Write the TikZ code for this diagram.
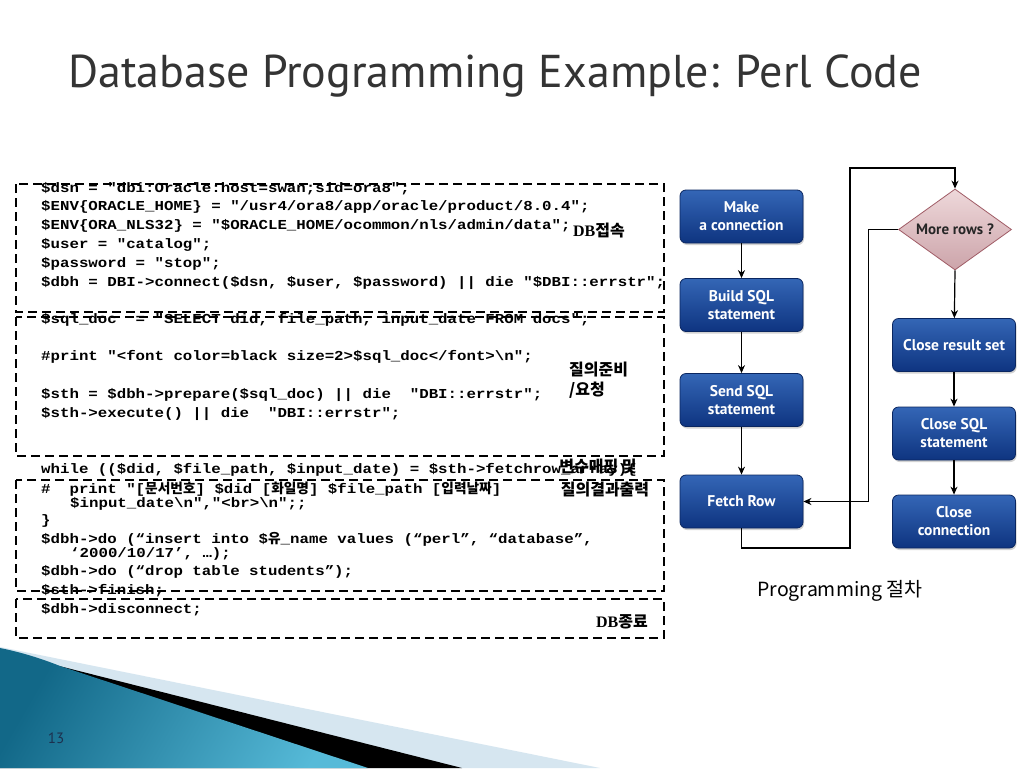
\documentclass[tikz,border=0pt]{standalone}
\usepackage{fontspec}
\setmainfont{PT Sans}
\newfontfamily\codefont[FakeStretch=1.15]{Liberation Mono}
\newfontfamily\korfont{Noto Sans CJK KR}
\newfontfamily\serifbold{Liberation Serif}
\usetikzlibrary{shapes.geometric,arrows.meta,shadows}

\definecolor{boxtop}{RGB}{52,102,182}
\definecolor{boxbot}{RGB}{14,52,128}
\definecolor{boxedge}{RGB}{10,38,96}
\definecolor{diatop}{RGB}{238,216,218}
\definecolor{diabot}{RGB}{204,164,170}
\definecolor{diaedge}{RGB}{160,92,102}
\definecolor{titlegray}{RGB}{52,52,52}
\definecolor{tealdark}{RGB}{18,104,136}
\definecolor{teallight}{RGB}{86,186,216}
\definecolor{skyband}{RGB}{214,230,240}
\definecolor{pagenum}{RGB}{28,48,78}

\begin{document}
\begin{tikzpicture}[x=1pt, y=-1pt,
    codebox/.style={draw, line width=1.8pt, dash pattern=on 9pt off 5pt},
    codeline/.style={anchor=mid west, inner sep=0pt, font=\codefont\bfseries\fontsize{13.7}{15}\selectfont},
    note/.style={inner sep=0pt, align=left, font=\korfont\bfseries\fontsize{16}{20}\selectfont},
    stepbox/.style={rectangle, rounded corners=6pt, draw=boxedge, line width=0.8pt,
        top color=boxtop, bottom color=boxbot, text=white, align=center,
        font=\bfseries\fontsize{15.5}{18}\selectfont, minimum width=123pt, minimum height=53pt,
        drop shadow={opacity=0.35, shadow xshift=1pt, shadow yshift=-2pt}},
    decision/.style={diamond, aspect=1.38, inner sep=0pt, draw=diaedge, line width=0.8pt,
        top color=diatop, bottom color=diabot, text=black!85,
        font=\bfseries\fontsize{15}{17}\selectfont, minimum width=113pt, minimum height=81pt},
    flow/.style={-{Stealth[length=8pt,width=7pt]}, line width=1.2pt}]
    \useasboundingbox (0,0) rectangle (1024,768);
    \fill[white] (0,0) rectangle (1024,768);

    % bottom decoration
    \fill[skyband] (0,647) -- (600,768) -- (0,768) -- cycle;
    \fill[black] (0,651) -- (462,768) -- (0,768) -- cycle;
    \shade[left color=tealdark, right color=teallight, shading angle=60] (0,648) .. controls (20,652) and (40,658) .. (60,666) -- (368,768) -- (0,768) -- cycle;

    % title and page number
    \node[text=titlegray, font=\fontsize{46}{50}\selectfont] (title) at (495,76) {Database Programming Example: Perl Code};
    \node[text=pagenum, font=\fontsize{15}{18}\selectfont] (page) at (56,738) {13};

    % code boxes
    \draw[codebox] (16,184) rectangle (664,312);
    \draw[codebox] (16,317) rectangle (664,456);
    \draw[codebox] (16,480) rectangle (664,591);
    \draw[codebox] (16,599) rectangle (664,638);

    \node[codeline] (dsn) at (41,190) {\$dsn = "dbi:Oracle:host=swan;sid=ora8";};
    \node[codeline] (envhome) at (41,208) {\$ENV\{ORACLE\_HOME\} = "/usr4/ora8/app/oracle/product/8.0.4";};
    \node[codeline] (envnls) at (41,227) {\$ENV\{ORA\_NLS32\} = "\$ORACLE\_HOME/ocommon/nls/admin/data";};
    \node[codeline] (user) at (41,246) {\$user = "catalog";};
    \node[codeline] (passwd) at (41,265) {\$password = "stop";};
    \node[codeline] (connect) at (41,284) {\$dbh = DBI->connect(\$dsn, \$user, \$password) || die "\$DBI::errstr";};

    \node[codeline] (sqldoc) at (41,321) {\$sql\_doc\ \ = "SELECT did, file\_path, input\_date FROM docs";};
    \node[codeline] (printdoc) at (41,358) {\#print "<font color=black size=2>\$sql\_doc</font>\textbackslash n";};
    \node[codeline] (prepare) at (41,396) {\$sth = \$dbh->prepare(\$sql\_doc) || die\ \ "DBI::errstr";};
    \node[codeline] (execute) at (41,415) {\$sth->execute() || die\ \ "DBI::errstr";};

    \node[codeline] (fetchloop) at (41,471) {while ((\$did, \$file\_path, \$input\_date) = \$sth->fetchrow\_array)\{};
    \node[codeline] (printrow) at (41,491) {\#\ \ print "[{\korfont 문서번호}] \$did [{\korfont 화일명}] \$file\_path [{\korfont 입력날짜}]};
    \node[codeline] (printrowb) at (70,505) {\$input\_date\textbackslash n","<br>\textbackslash n";;};
    \node[codeline] (closeloop) at (41,522) {\}};
    \node[codeline] (insert) at (41,541) {\$dbh->do (“insert into \${\korfont 유}\_name values (“perl”, “database”,};
    \node[codeline] (insertb) at (70,555) {‘2000/10/17’, …);};
    \node[codeline] (droptab) at (41,573) {\$dbh->do (“drop table students”);};
    \node[codeline] (finish) at (41,592) {\$sth->finish;};
    \node[codeline] (disconnect) at (41,611) {\$dbh->disconnect;};

    % notes on the code
    \node[note] (noteconn) at (599,231) {{\serifbold DB}접속};
    \node[note, anchor=west] (noteprep) at (569,380) {질의준비\\/요청};
    \node[note] (notemap) at (598,467) {변수매핑 및};
    \node[note] (noteres) at (605,490) {질의결과출력};
    \node[note] (noteend) at (622,622) {{\serifbold DB}종료};

    % flow chart
    \node[stepbox] (make) at (741.5,216.5) {Make\\a connection};
    \node[stepbox] (build) at (741.5,305) {Build SQL\\statement};
    \node[stepbox] (send) at (741.5,400) {Send SQL\\statement};
    \node[stepbox] (fetch) at (741.5,501.5) {Fetch Row};
    \node[decision] (morerows) at (955,229.5) {More rows ?};
    \node[stepbox] (closers) at (954,345) {Close result set};
    \node[stepbox] (closesql) at (954,433.5) {Close SQL\\statement};
    \node[stepbox] (closecon) at (954,521.5) {Close\\connection};
    \node[font=\korfont\fontsize{19.5}{22}\selectfont] (caption) at (840,591) {Programming 절차};

    \coordinate (loopbot) at (850,548);
    \coordinate (looptop) at (850,168);
    \draw[flow] (make) -- (build);
    \draw[flow] (build) -- (send);
    \draw[flow] (send) -- (fetch);
    \draw[flow] (fetch.south) |- (loopbot) -- (looptop) -| (morerows.north);
    \draw[flow] (morerows.west) -- ++(-30,0) |- (fetch.east);
    \draw[flow] (morerows.south) -- (closers);
    \draw[flow] (closers) -- (closesql);
    \draw[flow] (closesql) -- (closecon);
\end{tikzpicture}
\end{document}
